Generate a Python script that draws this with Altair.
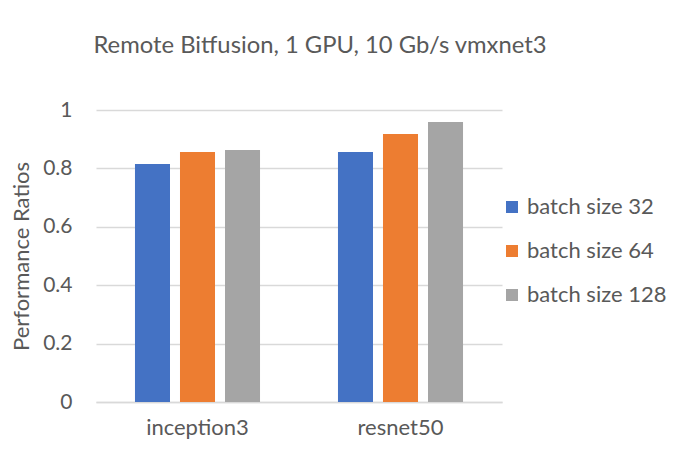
import altair as alt
import pandas as pd

models = ["inception3", "resnet50"]
series = ["batch size 32", "batch size 64", "batch size 128"]
bs32 = [0.815, 0.856]
bs64 = [0.856, 0.918]
bs128 = [0.863, 0.959]
colors = ["#4472C4", "#ED7D31", "#A5A5A5"]
y_ticks = [0, 0.2, 0.4, 0.6, 0.8, 1]

rows = []
for s, vals in zip(series, [bs32, bs64, bs128]):
    for m, v in zip(models, vals):
        rows.append({"model": m, "series": s, "value": v})
df = pd.DataFrame(rows)

FONT = "Lato"
TXT = "#595959"

chart = alt.Chart(df).mark_bar().encode(
    x=alt.X("model:N", sort=models, title=None,
            scale=alt.Scale(paddingInner=0.384, paddingOuter=0.192),
            axis=alt.Axis(labelAngle=0, labelFontSize=22, labelColor=TXT, labelFont=FONT,
                          labelPadding=15, ticks=False, domainColor="#d9d9d9", domainWidth=1.5)),
    xOffset=alt.XOffset("series:N", sort=series,
                        scale=alt.Scale(paddingInner=0.222, paddingOuter=0)),
    y=alt.Y("value:Q", title="Performance Ratios",
            scale=alt.Scale(domain=[0, 1], nice=False),
            axis=alt.Axis(values=y_ticks, labelExpr="datum.value == 0 ? '0' : format(datum.value, '.1~f')",
                          labelFontSize=21, labelColor=TXT, labelFont=FONT, labelPadding=24,
                          ticks=False, domain=False, gridColor="#d9d9d9", gridWidth=1.5,
                          titleFontSize=22, titleColor=TXT, titleFont=FONT, titleFontWeight="normal",
                          titlePadding=9)),
    color=alt.Color("series:N", sort=series,
                    scale=alt.Scale(domain=series, range=colors),
                    legend=alt.Legend(title=None, orient="none", legendX=405, legendY=86,
                                      symbolType="square", symbolSize=144, symbolStrokeWidth=0,
                                      labelFontSize=22, labelColor=TXT, labelFont=FONT,
                                      labelOffset=4, rowPadding=22, padding=0)),
).properties(
    width=406, height=292,
    title=alt.TitleParams("Remote Bitfusion, 1 GPU, 10 Gb/s vmxnet3", fontSize=23.8, font=FONT,
                          fontWeight="normal", color=TXT, anchor="middle", baseline="alphabetic",
                          offset=22, dx=21),
    autosize=alt.AutoSizeParams(type="none"),
    padding={"left": 88, "top": 102, "right": 179, "bottom": 39},
).configure_view(stroke=None)

chart.save("out.html", embed_options={"renderer": "svg", "actions": False})
